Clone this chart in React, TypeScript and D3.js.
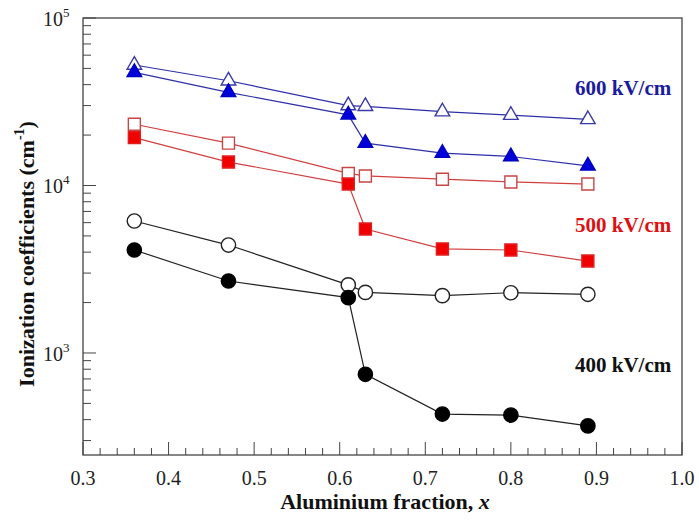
import * as d3 from 'd3';
import React from 'react';

const xs = [0.36, 0.47, 0.61, 0.63, 0.72, 0.8, 0.89];

// Ionization coefficients (cm^-1)
const open600 = [52400, 42200, 30000, 29700, 27600, 26300, 24800];
const filled600 = [47400, 36000, 26400, 17900, 15600, 14900, 13100];
const open500 = [23200, 17900, 11800, 11400, 10900, 10500, 10200];
const filled500 = [19300, 13800, 10200, 5500, 4180, 4120, 3540];
const open400 = [6140, 4410, 2550, 2300, 2200, 2290, 2240];
const filled400 = [4120, 2690, 2140, 746, 432, 426, 367];

const xTicks = [0.3, 0.4, 0.5, 0.6, 0.7, 0.8, 0.9, 1.0];
const yDecades = [3, 4, 5];

// label baselines given in data units
const fieldLabels = [
  { text: '600 kV/cm', at: 34700, color: '#1b1b9e' },
  { text: '500 kV/cm', at: 5280, color: '#dd1111' },
  { text: '400 kV/cm', at: 770, color: '#111111' },
];

type Series = {
  values: number[];
  shape: 'tri' | 'sq' | 'circ';
  line: string;
  fill: string;
  stroke: string;
};

const series: Series[] = [
  { values: open600, shape: 'tri', line: '#2f2fa8', fill: '#fff', stroke: '#3a3aa6' },
  { values: filled600, shape: 'tri', line: '#2f2fa8', fill: '#0000d8', stroke: '#0000c0' },
  { values: open500, shape: 'sq', line: '#d04040', fill: '#fff', stroke: '#c84646' },
  { values: filled500, shape: 'sq', line: '#d04040', fill: '#f00000', stroke: '#e02020' },
  { values: open400, shape: 'circ', line: '#222', fill: '#fff', stroke: '#222' },
  { values: filled400, shape: 'circ', line: '#222', fill: '#000', stroke: '#000' },
];

const W = 699, H = 521;
const margin = { left: 83, right: 17, top: 18, bottom: 66 };

export default function App() {
  const x = d3.scaleLinear().domain([0.3, 1.0]).range([margin.left, W - margin.right]);
  const y = d3.scaleLog().domain([246, 1e5]).range([H - margin.bottom, margin.top]);

  const minorX = d3.range(0.3, 1.0001, 0.02).filter((v) => Math.abs(v * 10 - Math.round(v * 10)) > 0.01);
  const minorY: number[] = [];
  for (let e = 2; e < 5; e++) for (let m = 2; m <= 9; m++) {
    const v = m * Math.pow(10, e);
    if (v >= 246 && v <= 1e5) minorY.push(v);
  }

  const line = d3.line<number>().x((_, i) => x(xs[i])).y((d) => y(d));
  const symbols = {
    tri: d3.symbol().type(d3.symbolTriangle).size(92)(),
    sq: d3.symbol().type(d3.symbolSquare).size(144)(),
    circ: d3.symbol().type(d3.symbolCircle).size(160)(),
  };

  const x0 = margin.left, x1 = W - margin.right, y0 = H - margin.bottom, y1 = margin.top;
  const axisColor = '#444';

  return (
    <svg width={W} height={H} style={{ position: 'absolute', left: 0, top: 0, background: '#fff' }}
      fontFamily="'Liberation Serif', 'Times New Roman', serif">
      {/* frame */}
      <rect x={x0} y={y1} width={x1 - x0} height={y0 - y1} fill="none" stroke={axisColor} strokeWidth={1.3} />

      {/* x ticks */}
      {minorX.map((v, i) => (
        <line key={'mx' + i} x1={x(v)} x2={x(v)} y1={y0} y2={y0 - 7} stroke={axisColor} strokeWidth={1} />
      ))}
      {xTicks.map((v) => (
        <g key={'x' + v}>
          <line x1={x(v)} x2={x(v)} y1={y0} y2={y0 - 13} stroke={axisColor} strokeWidth={1} />
          <text x={x(v)} y={y0 + 30} textAnchor="middle" fontSize={20} fill="#222">{v.toFixed(1)}</text>
        </g>
      ))}

      {/* y ticks */}
      {minorY.map((v, i) => (
        <line key={'my' + i} x1={x0} x2={x0 + 8} y1={y(v)} y2={y(v)} stroke={axisColor} strokeWidth={1} />
      ))}
      {yDecades.map((e) => (
        <g key={'y' + e}>
          <line x1={x0} x2={x0 + 13} y1={y(Math.pow(10, e))} y2={y(Math.pow(10, e))} stroke={axisColor} strokeWidth={1} />
          <text x={x0 - 40} y={y(Math.pow(10, e)) + 8} fontSize={20} fill="#222">
            10<tspan dy={-9} fontSize={13}>{e}</tspan>
          </text>
        </g>
      ))}

      {/* series lines */}
      {series.map((s, i) => (
        <path key={'l' + i} d={line(s.values) || ''} fill="none" stroke={s.line} strokeWidth={1.2} />
      ))}
      {/* markers */}
      {series.map((s, i) => (
        <g key={'m' + i}>
          {s.values.map((v, j) => (
            <path key={j} d={symbols[s.shape] || ''} transform={`translate(${x(xs[j])},${y(v)})`}
              fill={s.fill} stroke={s.stroke} strokeWidth={1.4} />
          ))}
        </g>
      ))}

      {/* field labels */}
      {fieldLabels.map((l) => (
        <text key={l.text} x={575} y={y(l.at)} fontSize={21} fontWeight="bold" fill={l.color}>{l.text}</text>
      ))}

      {/* axis titles */}
      <text x={385} y={509} textAnchor="middle" fontSize={22} fontWeight="bold" fill="#111">
        Aluminium fraction, <tspan fontStyle="italic">x</tspan>
      </text>
      <text transform="translate(34,254) rotate(-90)" textAnchor="middle" fontSize={22}
        fontWeight="bold" fill="#111">
        Ionization coefficients (cm<tspan dy={-10} fontSize={14}>-1</tspan><tspan dy={10}>)</tspan>
      </text>
    </svg>
  );
}
